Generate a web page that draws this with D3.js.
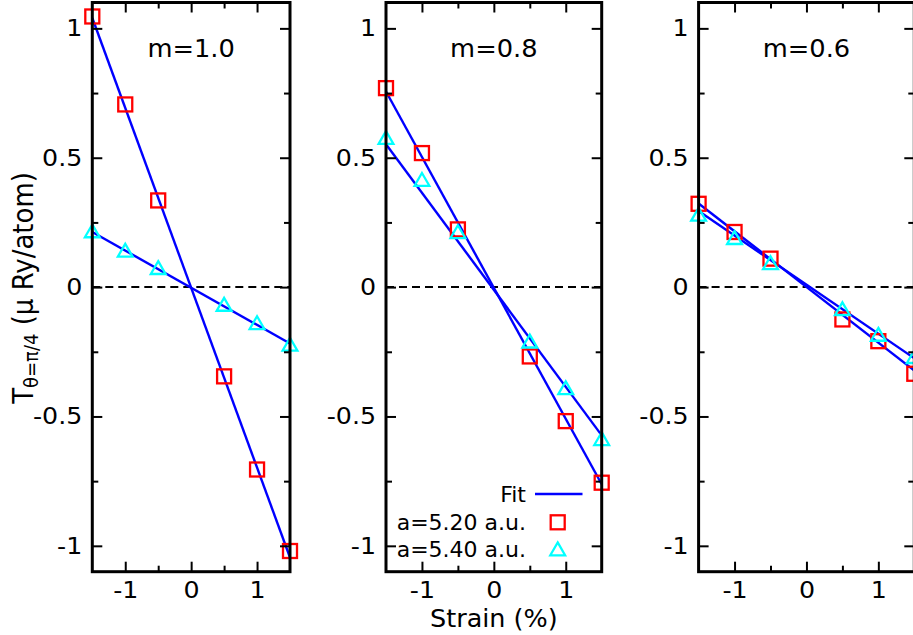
<!DOCTYPE html>
<html>
<head>
<meta charset="utf-8">
<script src="https://cdn.jsdelivr.net/npm/d3@7"></script>
<style>
  html, body { margin: 0; padding: 0; background: #fff; }
  svg { display: block; font-family: "DejaVu Sans", sans-serif; }
</style>
</head>
<body>
<svg id="chart" width="913" height="635"></svg>
<script>
// ---------------- data ----------------
const strain = [-1.5, -1, -0.5, 0.5, 1, 1.5];
const panelLabels = ["m=1.0", "m=0.8", "m=0.6"];
const seriesNames = ["a=5.20 a.u.", "a=5.40 a.u."];
// torque values, a = 5.20 a.u. (red squares)
const a520_m10 = [1.046, 0.706, 0.335, -0.345, -0.705, -1.02];
const a520_m08 = [0.769, 0.518, 0.223, -0.268, -0.518, -0.756];
const a520_m06 = [0.322, 0.213, 0.110, -0.125, -0.209, -0.335];
// torque values, a = 5.40 a.u. (cyan triangles)
const a540_m10 = [0.213, 0.138, 0.071, -0.071, -0.142, -0.225];
const a540_m08 = [0.574, 0.412, 0.210, -0.213, -0.393, -0.590];
const a540_m06 = [0.277, 0.187, 0.090, -0.088, -0.187, -0.273];
// linear fit lines: value at strain = -1.5 and at strain = 1.5
const fitX = [-1.5, 1.5];
const fit520_m10 = [1.040, -1.045];
const fit520_m08 = [0.756, -0.762];
const fit520_m06 = [0.323, -0.322];
const fit540_m10 = [0.213, -0.218];
const fit540_m08 = [0.552, -0.573];
const fit540_m06 = [0.294, -0.275];
// ticks
const xMajor = [-1, 0, 1];
const xMinor = [-0.5, 0.5];
const yMajor = [-1, -0.5, 0, 0.5, 1];
const yMinor = [-0.75, -0.25, 0.25, 0.75];
const xDomain = [-1.5, 1.5];
const yDomain = [-1.1, 1.1];

// ---------------- layout ----------------
const panels = [
  { x0: 92.3, x1: 290.0, label: panelLabels[0], s520: a520_m10, s540: a540_m10, f520: fit520_m10, f540: fit540_m10 },
  { x0: 386.0, x1: 601.7, label: panelLabels[1], s520: a520_m08, s540: a540_m08, f520: fit520_m08, f540: fit540_m08 },
  { x0: 698.6, x1: 914.3, label: panelLabels[2], s520: a520_m06, s540: a540_m06, f520: fit520_m06, f540: fit540_m06 }
];
const yTop = 2.5, yBot = 571.7;
const RED = "#ff0000", CYAN = "#00ffff", BLUE = "#0000ff";
const TICK_FS = 23, STRETCH = 1.1;

const svg = d3.select("#chart");
const y = d3.scaleLinear().domain(yDomain).range([yBot, yTop]);
const fmt = d => String(d);

panels.forEach((p, i) => {
  const x = d3.scaleLinear().domain(xDomain).range([p.x0, p.x1]);
  const g = svg.append("g");

  // zero dashed line
  g.append("line")
    .attr("x1", x(xDomain[0])).attr("x2", x(xDomain[1]))
    .attr("y1", y(0)).attr("y2", y(0))
    .attr("stroke", "#000").attr("stroke-width", 2).attr("stroke-dasharray", "8,5");

  // fit lines
  const line = d3.line().x(d => x(d[0])).y(d => y(d[1]));
  [p.f520, p.f540].forEach(f => {
    g.append("path")
      .attr("d", line(fitX.map((xx, k) => [xx, f[k]])))
      .attr("fill", "none").attr("stroke", BLUE).attr("stroke-width", 2.4);
  });

  // red squares
  g.selectAll(".sq").data(strain.map((s, k) => [s, p.s520[k]])).enter()
    .append("rect")
    .attr("x", d => x(d[0]) - 7).attr("y", d => y(d[1]) - 7)
    .attr("width", 14).attr("height", 14)
    .attr("fill", "none").attr("stroke", RED).attr("stroke-width", 2.3);

  // cyan triangles
  const tri = d3.symbol().type(d3.symbolTriangle).size(95);
  g.selectAll(".tr").data(strain.map((s, k) => [s, p.s540[k]])).enter()
    .append("path")
    .attr("d", tri)
    .attr("transform", d => `translate(${x(d[0])},${y(d[1]) + 1})`)
    .attr("fill", "none").attr("stroke", CYAN).attr("stroke-width", 2.3);

  // axes (ticks inward, mirrored)
  const styleAxis = (sel) => {
    sel.select(".domain").remove();
    sel.selectAll(".tick line").attr("stroke", "#000").attr("stroke-width", 2);
    sel.selectAll("text").attr("fill", "#000").attr("font-size", TICK_FS)
      .attr("font-family", "'DejaVu Sans', sans-serif");
  };
  const stretchText = (sel, anchorAt) => {
    sel.selectAll(".tick text").each(function () {
      const t = d3.select(this);
      const tx = +t.attr("x") || 0;
      t.attr("transform", `translate(${tx},0) scale(${STRETCH},1) translate(${-tx},0)`);
    });
  };
  // bottom
  g.append("g").attr("transform", `translate(0,${yBot})`)
    .call(d3.axisBottom(x).tickValues(xMajor).tickFormat(fmt).tickSizeInner(-10).tickSizeOuter(0).tickPadding(10))
    .call(styleAxis).call(stretchText);
  g.append("g").attr("transform", `translate(0,${yBot})`)
    .call(d3.axisBottom(x).tickValues(xMinor).tickFormat("").tickSizeInner(-6).tickSizeOuter(0))
    .call(styleAxis);
  // top
  g.append("g").attr("transform", `translate(0,${yTop})`)
    .call(d3.axisTop(x).tickValues(xMajor).tickFormat("").tickSizeInner(-10).tickSizeOuter(0))
    .call(styleAxis);
  g.append("g").attr("transform", `translate(0,${yTop})`)
    .call(d3.axisTop(x).tickValues(xMinor).tickFormat("").tickSizeInner(-6).tickSizeOuter(0))
    .call(styleAxis);
  // left
  g.append("g").attr("transform", `translate(${p.x0},0)`)
    .call(d3.axisLeft(y).tickValues(yMajor).tickFormat(fmt).tickSizeInner(-10).tickSizeOuter(0).tickPadding(10))
    .call(styleAxis).call(stretchText);
  g.append("g").attr("transform", `translate(${p.x0},0)`)
    .call(d3.axisLeft(y).tickValues(yMinor).tickFormat("").tickSizeInner(-6).tickSizeOuter(0))
    .call(styleAxis);
  // right
  g.append("g").attr("transform", `translate(${p.x1},0)`)
    .call(d3.axisRight(y).tickValues(yMajor).tickFormat("").tickSizeInner(-10).tickSizeOuter(0))
    .call(styleAxis);
  g.append("g").attr("transform", `translate(${p.x1},0)`)
    .call(d3.axisRight(y).tickValues(yMinor).tickFormat("").tickSizeInner(-6).tickSizeOuter(0))
    .call(styleAxis);

  // border
  g.append("rect")
    .attr("x", p.x0).attr("y", yTop)
    .attr("width", p.x1 - p.x0).attr("height", yBot - yTop)
    .attr("fill", "none").attr("stroke", "#000").attr("stroke-width", 3);

  // panel label
  g.append("text")
    .attr("transform", `translate(${x(0)},57) scale(1.05,1)`)
    .attr("text-anchor", "middle").attr("font-size", 24.5)
    .text(p.label);

  if (i === 1) {
    // x-axis title
    g.append("text")
      .attr("transform", `translate(${x(0)},626.5) scale(1.04,1)`)
      .attr("text-anchor", "middle").attr("font-size", 24.5)
      .text("Strain (%)");

    // legend
    const lx = 526, mx = 557.7;
    const lg = g.append("g");
    lg.append("text").attr("x", lx).attr("y", 501.5).attr("text-anchor", "end").attr("font-size", 22).text("Fit");
    lg.append("line").attr("x1", 535).attr("x2", 582.5).attr("y1", 494).attr("y2", 494)
      .attr("stroke", BLUE).attr("stroke-width", 2.4);
    lg.append("text").attr("x", lx).attr("y", 530).attr("text-anchor", "end").attr("font-size", 22).text(seriesNames[0]);
    lg.append("rect").attr("x", mx - 7).attr("y", 522.3 - 7).attr("width", 14).attr("height", 14)
      .attr("fill", "none").attr("stroke", RED).attr("stroke-width", 2.3);
    lg.append("text").attr("x", lx).attr("y", 557).attr("text-anchor", "end").attr("font-size", 22).text(seriesNames[1]);
    lg.append("path").attr("d", tri).attr("transform", `translate(${mx},${551})`)
      .attr("fill", "none").attr("stroke", CYAN).attr("stroke-width", 2.3);
  }
});

// y-axis title (rotated, with subscript)
const yt = svg.append("text")
  .attr("transform", "translate(33,288) scale(1.08,1) rotate(-90)")
  .attr("text-anchor", "middle").attr("font-size", 26);
yt.append("tspan").text("T");
yt.append("tspan").attr("font-size", 18).attr("dy", 5).text("θ=π/4");
yt.append("tspan").attr("dy", -5).text(" (μ Ry/atom)");
</script>
</body>
</html>
